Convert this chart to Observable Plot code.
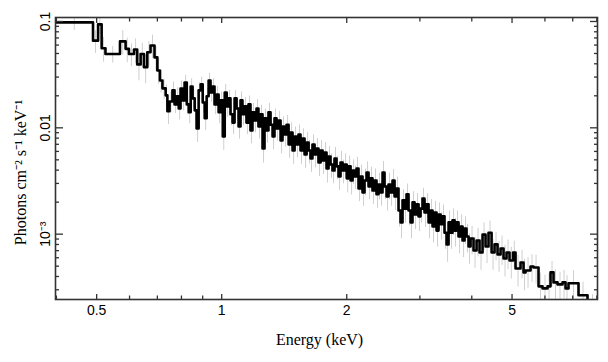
<!DOCTYPE html>
<html><head><meta charset="utf-8">
<script src="https://cdn.jsdelivr.net/npm/d3@7"></script>
<script src="https://cdn.jsdelivr.net/npm/@observablehq/plot@0.6"></script>
<style>body{margin:0;background:#fff} svg{display:block}</style>
</head><body><div id="chart"></div>
<script>
// Bin low edges (keV), last upper edge, flux (photons cm^-2 s^-1 keV^-1), fractional errors
const binLo = [
  0.398, 0.490, 0.504, 0.514, 0.525, 0.569, 0.587, 0.598, 0.615, 0.626,
  0.638, 0.650, 0.662, 0.674, 0.689, 0.700, 0.710, 0.720, 0.733, 0.740,
  0.749,
  0.761, 0.770, 0.779, 0.788, 0.796, 0.805, 0.814, 0.824, 0.833, 0.842,
  0.851, 0.861, 0.870, 0.880, 0.890, 0.900, 0.910, 0.920, 0.930, 0.940,
  0.951, 0.961, 0.972, 0.983, 0.994, 1.006, 1.017, 1.028, 1.039, 1.050,
  1.062, 1.074, 1.086, 1.098, 1.110, 1.122, 1.135, 1.147, 1.160, 1.173,
  1.186, 1.199, 1.213, 1.226, 1.240, 1.254, 1.268, 1.282, 1.296, 1.311,
  1.326, 1.340, 1.355, 1.371, 1.386, 1.401, 1.417, 1.433, 1.449, 1.465,
  1.481, 1.498, 1.514, 1.531, 1.548, 1.565, 1.583, 1.601, 1.619, 1.636,
  1.654, 1.673, 1.691, 1.710, 1.730, 1.749, 1.769, 1.788, 1.808, 1.828,
  1.848, 1.869, 1.890, 1.911, 1.932, 1.954, 1.975, 2.000, 2.022, 2.043,
  2.066, 2.089, 2.112, 2.135, 2.159, 2.183, 2.207, 2.232, 2.257, 2.282,
  2.307, 2.333, 2.359, 2.385, 2.412, 2.439, 2.466, 2.494, 2.521, 2.550,
  2.578, 2.607, 2.636, 2.665,
  2.695, 2.725, 2.755, 2.786, 2.817, 2.849, 2.880, 2.913, 2.945, 2.978,
  3.011, 3.044, 3.078, 3.113, 3.148, 3.183, 3.218, 3.254, 3.290, 3.327,
  3.364, 3.401, 3.439, 3.478, 3.517, 3.556, 3.595, 3.636, 3.676, 3.717,
  3.759, 3.801, 3.843, 3.885, 3.929,
  3.973, 4.039, 4.108, 4.176, 4.246, 4.317, 4.389, 4.464, 4.538, 4.614,
  4.692, 4.770, 4.850, 4.931,
  5.028, 5.098, 5.241, 5.329, 5.389, 5.540, 5.633, 5.791, 5.921, 6.087,
  6.189, 6.293, 6.434, 6.615, 6.726, 6.838, 7.228, 7.598
];
const binHiLast = 8.03;
const flux = [
  0.098, 0.066, 0.094, 0.056, 0.0495, 0.065, 0.0553, 0.0495, 0.0545, 0.0395,
  0.0495, 0.0372, 0.0513, 0.0595, 0.046, 0.0346, 0.0279, 0.0235, 0.0202, 0.0143,
  0.0177,
  0.0225, 0.0166, 0.0198, 0.0152, 0.0234, 0.0181, 0.0267, 0.0166, 0.0140, 0.0245,
  0.0189, 0.0146, 0.00984, 0.0225, 0.0256, 0.0173, 0.0123, 0.0198, 0.0279, 0.0215,
  0.0245, 0.0166, 0.0206, 0.0140, 0.0181, 0.00829, 0.0215, 0.0159, 0.0189, 0.0134,
  0.0112, 0.0189, 0.0152, 0.0103, 0.0181, 0.0134, 0.0159, 0.0112, 0.0166, 0.00944,
  0.0140, 0.0117, 0.0152, 0.0103, 0.0134, 0.00639, 0.0123, 0.00944, 0.0140, 0.0107,
  0.00829, 0.0123, 0.00984, 0.0117, 0.00760, 0.0103, 0.00866, 0.0107, 0.00697, 0.00904,
  0.00612, 0.00829, 0.00697, 0.00866, 0.00612, 0.00794, 0.00561, 0.00728, 0.00612, 0.00515,
  0.00697, 0.00561, 0.00639, 0.00472, 0.00612, 0.00493, 0.00586, 0.00415, 0.00538, 0.00452,
  0.00397, 0.00515, 0.00434, 0.00349, 0.00472, 0.00397, 0.00452, 0.00335, 0.00434, 0.00320,
  0.00397, 0.00349, 0.00415, 0.00269, 0.00349, 0.00247, 0.00320, 0.00380, 0.00281, 0.00335,
  0.00258, 0.00320, 0.00237, 0.00293, 0.00247, 0.00380, 0.00281, 0.00226, 0.00293, 0.00247,
  0.00320, 0.00226, 0.00269, 0.00167,
  0.00129, 0.00208, 0.00174, 0.00237, 0.00167, 0.00129, 0.00199, 0.00153, 0.00191, 0.00147,
  0.00174, 0.00216, 0.00160, 0.00191, 0.00129, 0.00167, 0.00118, 0.00160, 0.00108, 0.00153,
  0.00124, 0.00147, 0.00103, 0.000801, 0.00129, 0.00103, 0.00135, 0.00108, 0.00129, 0.000951,
  0.00118, 0.000873, 0.00113, 0.000951, 0.000766,
  0.000911, 0.000703, 0.000873, 0.000673, 0.000990, 0.000766, 0.00103, 0.000673, 0.000801, 0.000645,
  0.000734, 0.000591, 0.000673, 0.000566,
  0.000673, 0.000476, 0.000542, 0.000437, 0.000456, 0.000497, 0.000486, 0.000323, 0.000309, 0.000323,
  0.000437, 0.000352, 0.000337, 0.000352, 0.000309, 0.000345, 0.000266, 0.0002
];
const errFrac = [
  0.16, 0.24, 0.2, 0.26, 0.18, 0.26, 0.26, 0.24, 0.26, 0.3,
  0.26, 0.3, 0.26, 0.25, 0.26, 0.26, 0.24, 0.22, 0.25, 0.25,
  0.22,
  0.2, 0.18, 0.2, 0.22, 0.18, 0.2, 0.17, 0.2, 0.22, 0.18,
  0.2, 0.21, 0.26, 0.18, 0.17, 0.2, 0.23, 0.19, 0.17, 0.19,
  0.18, 0.2, 0.19, 0.22, 0.2, 0.26, 0.19, 0.21, 0.19, 0.22,
  0.23, 0.19, 0.21, 0.24, 0.2, 0.22, 0.21, 0.23, 0.2, 0.25,
  0.21, 0.23, 0.21, 0.24, 0.22, 0.27, 0.22, 0.24, 0.21, 0.23,
  0.25, 0.22, 0.24, 0.22, 0.25, 0.23, 0.24, 0.22, 0.26, 0.23,
  0.26, 0.23, 0.25, 0.23, 0.26, 0.23, 0.26, 0.24, 0.25, 0.26,
  0.23, 0.25, 0.24, 0.26, 0.24, 0.26, 0.24, 0.27, 0.24, 0.26,
  0.25, 0.27, 0.25, 0.26, 0.27, 0.25, 0.26, 0.27, 0.25, 0.27,
  0.26, 0.25, 0.27, 0.25, 0.28, 0.26, 0.28, 0.26, 0.25, 0.27,
  0.26, 0.28, 0.26, 0.28, 0.26, 0.27, 0.25, 0.27, 0.28, 0.26,
  0.27, 0.26, 0.28, 0.3,
  0.3, 0.26, 0.27, 0.25, 0.28, 0.3, 0.26, 0.28, 0.26, 0.28,
  0.27, 0.25, 0.28, 0.26, 0.3, 0.27, 0.3, 0.27, 0.3, 0.28,
  0.29, 0.28, 0.3, 0.32, 0.28, 0.3, 0.28, 0.3, 0.28, 0.31,
  0.29, 0.31, 0.29, 0.3, 0.32,
  0.3, 0.32, 0.3, 0.32, 0.29, 0.31, 0.29, 0.32, 0.3, 0.32,
  0.31, 0.33, 0.31, 0.33,
  0.28, 0.33, 0.3, 0.33, 0.32, 0.29, 0.3, 0.33, 0.33, 0.31,
  0.27, 0.31, 0.3, 0.3, 0.32, 0.31, 0.33, 0.35
];
const xMajor = [0.5, 1, 2, 5];
const xMinor = [0.4, 0.6, 0.7, 0.8, 0.9, 3, 4, 6, 7, 8];
const yMajor = [0.1, 0.01, 0.001];
const yMajorLabels = ["0.1", "0.01", "10⁻³"];
const yMinor = [0.09, 0.08, 0.07, 0.06, 0.05, 0.04, 0.03, 0.02,
                0.009, 0.008, 0.007, 0.006, 0.005, 0.004, 0.003, 0.002,
                0.0009, 0.0008, 0.0007, 0.0006, 0.0005, 0.0004, 0.0003];
const xDomain = [0.398, 8.03];
const yDomain = [2.43e-4, 0.109];
const xTitle = "Energy (keV)";
const yTitle = "Photons cm⁻² s⁻¹ keV⁻¹";

const edges = binLo.concat([binHiLast]);
const bins = flux.map((v, i) => ({lo: edges[i], hi: edges[i + 1], mid: Math.sqrt(edges[i] * edges[i + 1]), v, e: errFrac[i]}));
const steps = bins.map(b => ({x: b.lo, y: b.v})).concat([{x: binHiLast, y: flux[flux.length - 1]}]);

const sans = "'Liberation Sans', Arial, Helvetica, sans-serif";
const serif = "'Liberation Serif', 'Times New Roman', Times, serif";
const axisColor = "#333";
const blank = () => "";

const plot = Plot.plot({
  width: 608, height: 362,
  marginLeft: 55, marginRight: 11, marginTop: 17, marginBottom: 63,
  x: {type: "log", domain: xDomain},
  y: {type: "log", domain: yDomain},
  style: {fontFamily: sans, color: "#000", background: "#fff", overflow: "visible"},
  marks: [
    Plot.ruleX(bins, {x: "mid", y1: d => d.v * (1 - d.e), y2: d => d.v * (1 + d.e), stroke: "#cfcfcf", strokeWidth: 1, clip: true}),
    Plot.line(steps, {x: "x", y: "y", curve: "step-after", stroke: "#000", strokeWidth: 2.6, clip: true}),
    Plot.axisX({anchor: "bottom", ticks: xMajor, tickSize: -5, tickFormat: blank, label: null, stroke: axisColor, strokeWidth: 1.3}),
    Plot.axisX({anchor: "bottom", ticks: xMinor, tickSize: -3.5, tickFormat: blank, label: null, stroke: axisColor, strokeWidth: 1.3}),
    Plot.axisX({anchor: "top", ticks: xMajor, tickSize: -5, tickFormat: blank, label: null, stroke: axisColor, strokeWidth: 1.3}),
    Plot.axisX({anchor: "top", ticks: xMinor, tickSize: -3.5, tickFormat: blank, label: null, stroke: axisColor, strokeWidth: 1.3}),
    Plot.axisY({anchor: "left", ticks: yMajor, tickSize: -8, tickFormat: blank, label: null, stroke: axisColor, strokeWidth: 1.3}),
    Plot.axisY({anchor: "left", ticks: yMinor, tickSize: -4, tickFormat: blank, label: null, stroke: axisColor, strokeWidth: 1.3}),
    Plot.axisY({anchor: "right", ticks: yMajor, tickSize: -8, tickFormat: blank, label: null, stroke: axisColor, strokeWidth: 1.3}),
    Plot.axisY({anchor: "right", ticks: yMinor, tickSize: -4, tickFormat: blank, label: null, stroke: axisColor, strokeWidth: 1.3}),
    Plot.frame({stroke: axisColor, strokeWidth: 1.6}),
    Plot.text(xMajor, {x: d => d, text: d => String(d), frameAnchor: "bottom", lineAnchor: "top", dy: 6, fontSize: 14, fill: "#000"}),
    Plot.text(yMajor, {y: d => d, text: (d, i) => yMajorLabels[i], frameAnchor: "left", rotate: -90, lineAnchor: "bottom", textAnchor: "middle", dx: -6, fontSize: 14, fill: "#000"}),
    Plot.text([xTitle], {frameAnchor: "bottom", textAnchor: "middle", dx: -7, dy: 45, fontFamily: serif, fontSize: 16, fill: "#000"}),
    Plot.text([yTitle], {frameAnchor: "left", rotate: -90, textAnchor: "middle", dx: -35, dy: 14, fontFamily: serif, fontSize: 16, fill: "#000"})
  ]
});
document.getElementById("chart").appendChild(plot);
</script>
</body></html>
